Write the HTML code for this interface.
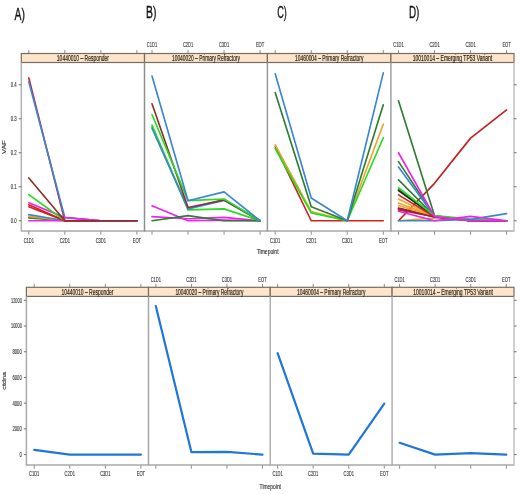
<!DOCTYPE html>
<html><head><meta charset="utf-8"><style>
html,body{margin:0;padding:0;background:#fff;width:520px;height:494px;overflow:hidden}
svg{display:block;filter:blur(0.35px)}
text{font-family:"Liberation Sans", sans-serif}
</style></head><body>
<svg width="520" height="494" viewBox="0 0 520 494" font-family='"Liberation Sans", sans-serif'>
<rect x="0" y="0" width="520" height="494" fill="#ffffff"/>
<text x="14.6" y="19.6" font-size="16.5" fill="#111" stroke="#111" stroke-width="0.35" textLength="10.4" lengthAdjust="spacingAndGlyphs">A)</text>
<text x="146.1" y="18.2" font-size="16.5" fill="#111" stroke="#111" stroke-width="0.35" textLength="10.4" lengthAdjust="spacingAndGlyphs">B)</text>
<text x="277.2" y="17.6" font-size="16.5" fill="#111" stroke="#111" stroke-width="0.35" textLength="9.6" lengthAdjust="spacingAndGlyphs">C)</text>
<text x="408.9" y="17.9" font-size="16.5" fill="#111" stroke="#111" stroke-width="0.35" textLength="10.4" lengthAdjust="spacingAndGlyphs">D)</text>
<line x1="28.8" y1="50.1" x2="28.8" y2="53.5" stroke="#707070" stroke-width="0.8"/>
<line x1="28.8" y1="230.9" x2="28.8" y2="234.7" stroke="#707070" stroke-width="0.8"/>
<text x="28.8" y="242.9" font-size="6.7" text-anchor="middle" fill="#3a3a3a" stroke="#3a3a3a" stroke-width="0.15" textLength="10.3" lengthAdjust="spacingAndGlyphs">C1D1</text>
<line x1="64.83" y1="50.1" x2="64.83" y2="53.5" stroke="#707070" stroke-width="0.8"/>
<line x1="64.83" y1="230.9" x2="64.83" y2="234.7" stroke="#707070" stroke-width="0.8"/>
<text x="64.83" y="242.9" font-size="6.7" text-anchor="middle" fill="#3a3a3a" stroke="#3a3a3a" stroke-width="0.15" textLength="10.3" lengthAdjust="spacingAndGlyphs">C2D1</text>
<line x1="100.86" y1="50.1" x2="100.86" y2="53.5" stroke="#707070" stroke-width="0.8"/>
<line x1="100.86" y1="230.9" x2="100.86" y2="234.7" stroke="#707070" stroke-width="0.8"/>
<text x="100.86" y="242.9" font-size="6.7" text-anchor="middle" fill="#3a3a3a" stroke="#3a3a3a" stroke-width="0.15" textLength="10.3" lengthAdjust="spacingAndGlyphs">C3D1</text>
<line x1="136.89" y1="50.1" x2="136.89" y2="53.5" stroke="#707070" stroke-width="0.8"/>
<line x1="136.89" y1="230.9" x2="136.89" y2="234.7" stroke="#707070" stroke-width="0.8"/>
<text x="136.89" y="242.9" font-size="6.7" text-anchor="middle" fill="#3a3a3a" stroke="#3a3a3a" stroke-width="0.15" textLength="8.4" lengthAdjust="spacingAndGlyphs">EOT</text>
<line x1="152" y1="50.1" x2="152" y2="53.5" stroke="#707070" stroke-width="0.8"/>
<line x1="152" y1="230.9" x2="152" y2="234.7" stroke="#707070" stroke-width="0.8"/>
<text x="152" y="47.3" font-size="6.7" text-anchor="middle" fill="#3a3a3a" stroke="#3a3a3a" stroke-width="0.15" textLength="10.3" lengthAdjust="spacingAndGlyphs">C1D1</text>
<line x1="188.03" y1="50.1" x2="188.03" y2="53.5" stroke="#707070" stroke-width="0.8"/>
<line x1="188.03" y1="230.9" x2="188.03" y2="234.7" stroke="#707070" stroke-width="0.8"/>
<text x="188.03" y="47.3" font-size="6.7" text-anchor="middle" fill="#3a3a3a" stroke="#3a3a3a" stroke-width="0.15" textLength="10.3" lengthAdjust="spacingAndGlyphs">C2D1</text>
<line x1="224.06" y1="50.1" x2="224.06" y2="53.5" stroke="#707070" stroke-width="0.8"/>
<line x1="224.06" y1="230.9" x2="224.06" y2="234.7" stroke="#707070" stroke-width="0.8"/>
<text x="224.06" y="47.3" font-size="6.7" text-anchor="middle" fill="#3a3a3a" stroke="#3a3a3a" stroke-width="0.15" textLength="10.3" lengthAdjust="spacingAndGlyphs">C3D1</text>
<line x1="260.09" y1="50.1" x2="260.09" y2="53.5" stroke="#707070" stroke-width="0.8"/>
<line x1="260.09" y1="230.9" x2="260.09" y2="234.7" stroke="#707070" stroke-width="0.8"/>
<text x="260.09" y="47.3" font-size="6.7" text-anchor="middle" fill="#3a3a3a" stroke="#3a3a3a" stroke-width="0.15" textLength="8.4" lengthAdjust="spacingAndGlyphs">EOT</text>
<line x1="275.2" y1="50.1" x2="275.2" y2="53.5" stroke="#707070" stroke-width="0.8"/>
<line x1="275.2" y1="230.9" x2="275.2" y2="234.7" stroke="#707070" stroke-width="0.8"/>
<text x="275.2" y="242.9" font-size="6.7" text-anchor="middle" fill="#3a3a3a" stroke="#3a3a3a" stroke-width="0.15" textLength="10.3" lengthAdjust="spacingAndGlyphs">C1D1</text>
<line x1="311.23" y1="50.1" x2="311.23" y2="53.5" stroke="#707070" stroke-width="0.8"/>
<line x1="311.23" y1="230.9" x2="311.23" y2="234.7" stroke="#707070" stroke-width="0.8"/>
<text x="311.23" y="242.9" font-size="6.7" text-anchor="middle" fill="#3a3a3a" stroke="#3a3a3a" stroke-width="0.15" textLength="10.3" lengthAdjust="spacingAndGlyphs">C2D1</text>
<line x1="347.26" y1="50.1" x2="347.26" y2="53.5" stroke="#707070" stroke-width="0.8"/>
<line x1="347.26" y1="230.9" x2="347.26" y2="234.7" stroke="#707070" stroke-width="0.8"/>
<text x="347.26" y="242.9" font-size="6.7" text-anchor="middle" fill="#3a3a3a" stroke="#3a3a3a" stroke-width="0.15" textLength="10.3" lengthAdjust="spacingAndGlyphs">C3D1</text>
<line x1="383.29" y1="50.1" x2="383.29" y2="53.5" stroke="#707070" stroke-width="0.8"/>
<line x1="383.29" y1="230.9" x2="383.29" y2="234.7" stroke="#707070" stroke-width="0.8"/>
<text x="383.29" y="242.9" font-size="6.7" text-anchor="middle" fill="#3a3a3a" stroke="#3a3a3a" stroke-width="0.15" textLength="8.4" lengthAdjust="spacingAndGlyphs">EOT</text>
<line x1="398.5" y1="50.1" x2="398.5" y2="53.5" stroke="#707070" stroke-width="0.8"/>
<line x1="398.5" y1="230.9" x2="398.5" y2="234.7" stroke="#707070" stroke-width="0.8"/>
<text x="398.5" y="47.3" font-size="6.7" text-anchor="middle" fill="#3a3a3a" stroke="#3a3a3a" stroke-width="0.15" textLength="10.3" lengthAdjust="spacingAndGlyphs">C1D1</text>
<line x1="434.53" y1="50.1" x2="434.53" y2="53.5" stroke="#707070" stroke-width="0.8"/>
<line x1="434.53" y1="230.9" x2="434.53" y2="234.7" stroke="#707070" stroke-width="0.8"/>
<text x="434.53" y="47.3" font-size="6.7" text-anchor="middle" fill="#3a3a3a" stroke="#3a3a3a" stroke-width="0.15" textLength="10.3" lengthAdjust="spacingAndGlyphs">C2D1</text>
<line x1="470.56" y1="50.1" x2="470.56" y2="53.5" stroke="#707070" stroke-width="0.8"/>
<line x1="470.56" y1="230.9" x2="470.56" y2="234.7" stroke="#707070" stroke-width="0.8"/>
<text x="470.56" y="47.3" font-size="6.7" text-anchor="middle" fill="#3a3a3a" stroke="#3a3a3a" stroke-width="0.15" textLength="10.3" lengthAdjust="spacingAndGlyphs">C3D1</text>
<line x1="506.59" y1="50.1" x2="506.59" y2="53.5" stroke="#707070" stroke-width="0.8"/>
<line x1="506.59" y1="230.9" x2="506.59" y2="234.7" stroke="#707070" stroke-width="0.8"/>
<text x="506.59" y="47.3" font-size="6.7" text-anchor="middle" fill="#3a3a3a" stroke="#3a3a3a" stroke-width="0.15" textLength="8.4" lengthAdjust="spacingAndGlyphs">EOT</text>
<rect x="21.3" y="53.5" width="123.2" height="9" fill="#fde5cb" stroke="#786c60" stroke-width="1.2"/>
<text x="82.9" y="60.85" font-size="8.9" text-anchor="middle" fill="#2a2418" stroke="#2a2418" stroke-width="0.2" textLength="52.1" lengthAdjust="spacingAndGlyphs">10440010 – Responder</text>
<rect x="144.5" y="53.5" width="122.9" height="9" fill="#fde5cb" stroke="#786c60" stroke-width="1.2"/>
<text x="205.95" y="60.85" font-size="8.9" text-anchor="middle" fill="#2a2418" stroke="#2a2418" stroke-width="0.2" textLength="68" lengthAdjust="spacingAndGlyphs">10040020 – Primary Refractory</text>
<rect x="267.4" y="53.5" width="123.5" height="9" fill="#fde5cb" stroke="#786c60" stroke-width="1.2"/>
<text x="329.15" y="60.85" font-size="8.9" text-anchor="middle" fill="#2a2418" stroke="#2a2418" stroke-width="0.2" textLength="68.4" lengthAdjust="spacingAndGlyphs">10460004 – Primary Refractory</text>
<rect x="390.9" y="53.5" width="123.1" height="9" fill="#fde5cb" stroke="#786c60" stroke-width="1.2"/>
<text x="452.45" y="60.85" font-size="8.9" text-anchor="middle" fill="#2a2418" stroke="#2a2418" stroke-width="0.2" textLength="79.6" lengthAdjust="spacingAndGlyphs">10010014 – Emerging TP53 Variant</text>
<polyline points="28.8,217.86 64.83,220.75 100.86,220.75 136.89,220.75" fill="none" stroke="#2f7d32" stroke-width="1.65" stroke-linejoin="round" stroke-linecap="round"/>
<polyline points="28.8,216.33 64.83,220.75 100.86,220.75 136.89,220.75" fill="none" stroke="#f0a428" stroke-width="1.65" stroke-linejoin="round" stroke-linecap="round"/>
<polyline points="28.8,214.63 64.83,220.75 100.86,220.75 136.89,220.75" fill="none" stroke="#3a86d6" stroke-width="1.65" stroke-linejoin="round" stroke-linecap="round"/>
<polyline points="28.8,220.75 64.83,220.75 100.86,220.75 136.89,220.75" fill="none" stroke="#ee22ee" stroke-width="1.65" stroke-linejoin="round" stroke-linecap="round"/>
<polyline points="28.8,206.81 64.83,220.75 100.86,220.75 136.89,220.75" fill="none" stroke="#d61e1e" stroke-width="1.65" stroke-linejoin="round" stroke-linecap="round"/>
<polyline points="28.8,204.77 64.83,220.75 100.86,220.75 136.89,220.75" fill="none" stroke="#d61e1e" stroke-width="1.65" stroke-linejoin="round" stroke-linecap="round"/>
<polyline points="28.8,202.73 64.83,217.45 100.86,220.75 136.89,220.75" fill="none" stroke="#ee22ee" stroke-width="1.65" stroke-linejoin="round" stroke-linecap="round"/>
<polyline points="28.8,194.57 64.83,220.75 100.86,220.75 136.89,220.75" fill="none" stroke="#22dd22" stroke-width="1.65" stroke-linejoin="round" stroke-linecap="round"/>
<polyline points="28.8,177.91 64.83,220.75 100.86,220.75 136.89,220.75" fill="none" stroke="#962c2c" stroke-width="1.65" stroke-linejoin="round" stroke-linecap="round"/>
<polyline points="28.8,77.95 64.83,220.75 100.86,220.75 136.89,220.75" fill="none" stroke="#d61e1e" stroke-width="1.65" stroke-linejoin="round" stroke-linecap="round"/>
<polyline points="28.8,81.69 64.83,217.45 100.86,220.75 136.89,220.75" fill="none" stroke="#3a86d6" stroke-width="1.65" stroke-linejoin="round" stroke-linecap="round"/>
<polyline points="64.83,217.45 100.86,220.75" fill="none" stroke="#ee22ee" stroke-width="1.65" stroke-linejoin="round" stroke-linecap="round"/>
<polyline points="64.83,220.75 100.86,220.75 136.89,220.75" fill="none" stroke="#962c2c" stroke-width="1.65" stroke-linejoin="round" stroke-linecap="round"/>
<polyline points="152,205.79 188.03,220.75 224.06,220.07 260.09,220.75" fill="none" stroke="#ee22ee" stroke-width="1.65" stroke-linejoin="round" stroke-linecap="round"/>
<polyline points="152,216.67 188.03,218.71 224.06,217.35 260.09,220.75" fill="none" stroke="#ee22ee" stroke-width="1.65" stroke-linejoin="round" stroke-linecap="round"/>
<polyline points="152,220.75 188.03,215.65 224.06,220.75 260.09,220.75" fill="none" stroke="#2f7d32" stroke-width="1.65" stroke-linejoin="round" stroke-linecap="round"/>
<polyline points="152,125.04 188.03,209.87 224.06,208.85 260.09,220.75" fill="none" stroke="#22dd22" stroke-width="1.65" stroke-linejoin="round" stroke-linecap="round"/>
<polyline points="152,126.91 188.03,208.51 224.06,199.67 260.09,220.75" fill="none" stroke="#22dd22" stroke-width="1.65" stroke-linejoin="round" stroke-linecap="round"/>
<polyline points="152,128.27 188.03,208.85 224.06,200.35 260.09,220.75" fill="none" stroke="#3a86d6" stroke-width="1.65" stroke-linejoin="round" stroke-linecap="round"/>
<polyline points="152,103.79 188.03,207.49 224.06,200.01 260.09,220.75" fill="none" stroke="#962c2c" stroke-width="1.65" stroke-linejoin="round" stroke-linecap="round"/>
<polyline points="152,114.5 188.03,200.69 224.06,198.99 260.09,220.75" fill="none" stroke="#22dd22" stroke-width="1.65" stroke-linejoin="round" stroke-linecap="round"/>
<polyline points="152,76.05 188.03,200.69 224.06,191.85 260.09,220.75" fill="none" stroke="#3a86d6" stroke-width="1.65" stroke-linejoin="round" stroke-linecap="round"/>
<polyline points="275.2,146.46 311.23,220.75 347.26,220.75 383.29,220.75" fill="none" stroke="#d61e1e" stroke-width="1.65" stroke-linejoin="round" stroke-linecap="round"/>
<polyline points="275.2,144.93 311.23,211.57 347.26,220.75 383.29,124.19" fill="none" stroke="#f0a428" stroke-width="1.65" stroke-linejoin="round" stroke-linecap="round"/>
<polyline points="275.2,148.5 311.23,212.93 347.26,220.75 383.29,137.79" fill="none" stroke="#22dd22" stroke-width="1.65" stroke-linejoin="round" stroke-linecap="round"/>
<polyline points="275.2,92.57 311.23,206.81 347.26,220.75 383.29,104.81" fill="none" stroke="#2f7d32" stroke-width="1.65" stroke-linejoin="round" stroke-linecap="round"/>
<polyline points="275.2,73.67 311.23,197.97 347.26,220.75 383.29,72.85" fill="none" stroke="#3a86d6" stroke-width="1.65" stroke-linejoin="round" stroke-linecap="round"/>
<polyline points="398.5,220.75 434.53,183.35 470.56,138.13 506.59,109.91" fill="none" stroke="#c41e1e" stroke-width="1.65" stroke-linejoin="round" stroke-linecap="round"/>
<polyline points="398.5,220.75 434.53,218.03 470.56,219.73 506.59,220.75" fill="none" stroke="#f0a428" stroke-width="1.65" stroke-linejoin="round" stroke-linecap="round"/>
<polyline points="398.5,100.73 434.53,215.65 470.56,220.75 506.59,220.75" fill="none" stroke="#2f7d32" stroke-width="1.65" stroke-linejoin="round" stroke-linecap="round"/>
<polyline points="398.5,161.59 434.53,215.99 470.56,220.75 506.59,220.75" fill="none" stroke="#2f7d32" stroke-width="1.65" stroke-linejoin="round" stroke-linecap="round"/>
<polyline points="398.5,179.95 434.53,215.99 470.56,220.75 506.59,220.75" fill="none" stroke="#2f7d32" stroke-width="1.65" stroke-linejoin="round" stroke-linecap="round"/>
<polyline points="398.5,189.47 434.53,215.99 470.56,220.75 506.59,220.75" fill="none" stroke="#2f7d32" stroke-width="1.65" stroke-linejoin="round" stroke-linecap="round"/>
<polyline points="398.5,190.66 434.53,216.33 470.56,220.75 506.59,220.75" fill="none" stroke="#222222" stroke-width="1.65" stroke-linejoin="round" stroke-linecap="round"/>
<polyline points="398.5,208.17 434.53,216.67 470.56,220.75 506.59,220.75" fill="none" stroke="#962c2c" stroke-width="1.65" stroke-linejoin="round" stroke-linecap="round"/>
<polyline points="398.5,209.87 434.53,216.67 470.56,220.75 506.59,220.75" fill="none" stroke="#d61e1e" stroke-width="1.65" stroke-linejoin="round" stroke-linecap="round"/>
<polyline points="398.5,205.45 434.53,216.67 470.56,220.75 506.59,220.75" fill="none" stroke="#f0a428" stroke-width="1.65" stroke-linejoin="round" stroke-linecap="round"/>
<polyline points="398.5,203.07 434.53,216.67 470.56,220.75 506.59,220.75" fill="none" stroke="#f0a428" stroke-width="1.65" stroke-linejoin="round" stroke-linecap="round"/>
<polyline points="398.5,198.99 434.53,216.67 470.56,220.75 506.59,220.75" fill="none" stroke="#f0a428" stroke-width="1.65" stroke-linejoin="round" stroke-linecap="round"/>
<polyline points="398.5,194.91 434.53,216.67 470.56,220.75 506.59,220.75" fill="none" stroke="#d61e1e" stroke-width="1.65" stroke-linejoin="round" stroke-linecap="round"/>
<polyline points="398.5,167.03 434.53,216.33 470.56,220.75 506.59,220.75" fill="none" stroke="#3a86d6" stroke-width="1.65" stroke-linejoin="round" stroke-linecap="round"/>
<polyline points="398.5,208.51 434.53,217.01 470.56,220.75 506.59,220.75" fill="none" stroke="#8b2252" stroke-width="1.65" stroke-linejoin="round" stroke-linecap="round"/>
<polyline points="398.5,187.77 434.53,215.65 470.56,219.05 506.59,220.75" fill="none" stroke="#22dd22" stroke-width="1.65" stroke-linejoin="round" stroke-linecap="round"/>
<polyline points="398.5,220.75 434.53,220.75 470.56,219.39 506.59,213.61" fill="none" stroke="#3a86d6" stroke-width="1.65" stroke-linejoin="round" stroke-linecap="round"/>
<polyline points="398.5,211.23 434.53,220.75 470.56,216.33 506.59,220.75" fill="none" stroke="#ee22ee" stroke-width="1.65" stroke-linejoin="round" stroke-linecap="round"/>
<polyline points="398.5,152.75 434.53,216.67 470.56,220.75 506.59,220.75" fill="none" stroke="#ee22ee" stroke-width="1.65" stroke-linejoin="round" stroke-linecap="round"/>
<line x1="21.3" y1="230.9" x2="514" y2="230.9" stroke="#a9a9a9" stroke-width="1.5"/>
<line x1="21.3" y1="62.5" x2="21.3" y2="231.65" stroke="#b2b2b2" stroke-width="1.5"/>
<line x1="144.5" y1="62.5" x2="144.5" y2="231.65" stroke="#8e8e8e" stroke-width="1.5"/>
<line x1="267.4" y1="62.5" x2="267.4" y2="231.65" stroke="#999999" stroke-width="1.5"/>
<line x1="390.9" y1="62.5" x2="390.9" y2="231.65" stroke="#a0a0a0" stroke-width="1.5"/>
<line x1="514" y1="62.5" x2="514" y2="231.65" stroke="#c2c2c2" stroke-width="1.5"/>
<line x1="18.7" y1="220.75" x2="21.3" y2="220.75" stroke="#707070" stroke-width="1"/>
<line x1="514" y1="220.75" x2="516.6" y2="220.75" stroke="#707070" stroke-width="1"/>
<text x="16.7" y="223.15" font-size="6.7" text-anchor="end" fill="#3a3a3a" stroke="#3a3a3a" stroke-width="0.15" textLength="5.9" lengthAdjust="spacingAndGlyphs">0.0</text>
<line x1="18.7" y1="186.75" x2="21.3" y2="186.75" stroke="#707070" stroke-width="1"/>
<line x1="514" y1="186.75" x2="516.6" y2="186.75" stroke="#707070" stroke-width="1"/>
<text x="16.7" y="189.15" font-size="6.7" text-anchor="end" fill="#3a3a3a" stroke="#3a3a3a" stroke-width="0.15" textLength="5.9" lengthAdjust="spacingAndGlyphs">0.1</text>
<line x1="18.7" y1="152.75" x2="21.3" y2="152.75" stroke="#707070" stroke-width="1"/>
<line x1="514" y1="152.75" x2="516.6" y2="152.75" stroke="#707070" stroke-width="1"/>
<text x="16.7" y="155.15" font-size="6.7" text-anchor="end" fill="#3a3a3a" stroke="#3a3a3a" stroke-width="0.15" textLength="5.9" lengthAdjust="spacingAndGlyphs">0.2</text>
<line x1="18.7" y1="118.75" x2="21.3" y2="118.75" stroke="#707070" stroke-width="1"/>
<line x1="514" y1="118.75" x2="516.6" y2="118.75" stroke="#707070" stroke-width="1"/>
<text x="16.7" y="121.15" font-size="6.7" text-anchor="end" fill="#3a3a3a" stroke="#3a3a3a" stroke-width="0.15" textLength="5.9" lengthAdjust="spacingAndGlyphs">0.3</text>
<line x1="18.7" y1="84.75" x2="21.3" y2="84.75" stroke="#707070" stroke-width="1"/>
<line x1="514" y1="84.75" x2="516.6" y2="84.75" stroke="#707070" stroke-width="1"/>
<text x="16.7" y="87.15" font-size="6.7" text-anchor="end" fill="#3a3a3a" stroke="#3a3a3a" stroke-width="0.15" textLength="5.9" lengthAdjust="spacingAndGlyphs">0.4</text>
<line x1="34.2" y1="283.9" x2="34.2" y2="287.3" stroke="#707070" stroke-width="0.8"/>
<line x1="34.2" y1="464.9" x2="34.2" y2="468.7" stroke="#707070" stroke-width="0.8"/>
<text x="34.2" y="476.2" font-size="6.7" text-anchor="middle" fill="#3a3a3a" stroke="#3a3a3a" stroke-width="0.15" textLength="10.3" lengthAdjust="spacingAndGlyphs">C1D1</text>
<line x1="69.77" y1="283.9" x2="69.77" y2="287.3" stroke="#707070" stroke-width="0.8"/>
<line x1="69.77" y1="464.9" x2="69.77" y2="468.7" stroke="#707070" stroke-width="0.8"/>
<text x="69.77" y="476.2" font-size="6.7" text-anchor="middle" fill="#3a3a3a" stroke="#3a3a3a" stroke-width="0.15" textLength="10.3" lengthAdjust="spacingAndGlyphs">C2D1</text>
<line x1="105.34" y1="283.9" x2="105.34" y2="287.3" stroke="#707070" stroke-width="0.8"/>
<line x1="105.34" y1="464.9" x2="105.34" y2="468.7" stroke="#707070" stroke-width="0.8"/>
<text x="105.34" y="476.2" font-size="6.7" text-anchor="middle" fill="#3a3a3a" stroke="#3a3a3a" stroke-width="0.15" textLength="10.3" lengthAdjust="spacingAndGlyphs">C3D1</text>
<line x1="140.91" y1="283.9" x2="140.91" y2="287.3" stroke="#707070" stroke-width="0.8"/>
<line x1="140.91" y1="464.9" x2="140.91" y2="468.7" stroke="#707070" stroke-width="0.8"/>
<text x="140.91" y="476.2" font-size="6.7" text-anchor="middle" fill="#3a3a3a" stroke="#3a3a3a" stroke-width="0.15" textLength="8.4" lengthAdjust="spacingAndGlyphs">EOT</text>
<line x1="155.8" y1="283.9" x2="155.8" y2="287.3" stroke="#707070" stroke-width="0.8"/>
<line x1="155.8" y1="464.9" x2="155.8" y2="468.7" stroke="#707070" stroke-width="0.8"/>
<text x="155.8" y="281.5" font-size="6.7" text-anchor="middle" fill="#3a3a3a" stroke="#3a3a3a" stroke-width="0.15" textLength="10.3" lengthAdjust="spacingAndGlyphs">C1D1</text>
<line x1="191.37" y1="283.9" x2="191.37" y2="287.3" stroke="#707070" stroke-width="0.8"/>
<line x1="191.37" y1="464.9" x2="191.37" y2="468.7" stroke="#707070" stroke-width="0.8"/>
<text x="191.37" y="281.5" font-size="6.7" text-anchor="middle" fill="#3a3a3a" stroke="#3a3a3a" stroke-width="0.15" textLength="10.3" lengthAdjust="spacingAndGlyphs">C2D1</text>
<line x1="226.94" y1="283.9" x2="226.94" y2="287.3" stroke="#707070" stroke-width="0.8"/>
<line x1="226.94" y1="464.9" x2="226.94" y2="468.7" stroke="#707070" stroke-width="0.8"/>
<text x="226.94" y="281.5" font-size="6.7" text-anchor="middle" fill="#3a3a3a" stroke="#3a3a3a" stroke-width="0.15" textLength="10.3" lengthAdjust="spacingAndGlyphs">C3D1</text>
<line x1="262.51" y1="283.9" x2="262.51" y2="287.3" stroke="#707070" stroke-width="0.8"/>
<line x1="262.51" y1="464.9" x2="262.51" y2="468.7" stroke="#707070" stroke-width="0.8"/>
<text x="262.51" y="281.5" font-size="6.7" text-anchor="middle" fill="#3a3a3a" stroke="#3a3a3a" stroke-width="0.15" textLength="8.4" lengthAdjust="spacingAndGlyphs">EOT</text>
<line x1="277.6" y1="283.9" x2="277.6" y2="287.3" stroke="#707070" stroke-width="0.8"/>
<line x1="277.6" y1="464.9" x2="277.6" y2="468.7" stroke="#707070" stroke-width="0.8"/>
<text x="277.6" y="476.2" font-size="6.7" text-anchor="middle" fill="#3a3a3a" stroke="#3a3a3a" stroke-width="0.15" textLength="10.3" lengthAdjust="spacingAndGlyphs">C1D1</text>
<line x1="313.17" y1="283.9" x2="313.17" y2="287.3" stroke="#707070" stroke-width="0.8"/>
<line x1="313.17" y1="464.9" x2="313.17" y2="468.7" stroke="#707070" stroke-width="0.8"/>
<text x="313.17" y="476.2" font-size="6.7" text-anchor="middle" fill="#3a3a3a" stroke="#3a3a3a" stroke-width="0.15" textLength="10.3" lengthAdjust="spacingAndGlyphs">C2D1</text>
<line x1="348.74" y1="283.9" x2="348.74" y2="287.3" stroke="#707070" stroke-width="0.8"/>
<line x1="348.74" y1="464.9" x2="348.74" y2="468.7" stroke="#707070" stroke-width="0.8"/>
<text x="348.74" y="476.2" font-size="6.7" text-anchor="middle" fill="#3a3a3a" stroke="#3a3a3a" stroke-width="0.15" textLength="10.3" lengthAdjust="spacingAndGlyphs">C3D1</text>
<line x1="384.31" y1="283.9" x2="384.31" y2="287.3" stroke="#707070" stroke-width="0.8"/>
<line x1="384.31" y1="464.9" x2="384.31" y2="468.7" stroke="#707070" stroke-width="0.8"/>
<text x="384.31" y="476.2" font-size="6.7" text-anchor="middle" fill="#3a3a3a" stroke="#3a3a3a" stroke-width="0.15" textLength="8.4" lengthAdjust="spacingAndGlyphs">EOT</text>
<line x1="399.6" y1="283.9" x2="399.6" y2="287.3" stroke="#707070" stroke-width="0.8"/>
<line x1="399.6" y1="464.9" x2="399.6" y2="468.7" stroke="#707070" stroke-width="0.8"/>
<text x="399.6" y="281.5" font-size="6.7" text-anchor="middle" fill="#3a3a3a" stroke="#3a3a3a" stroke-width="0.15" textLength="10.3" lengthAdjust="spacingAndGlyphs">C1D1</text>
<line x1="435.17" y1="283.9" x2="435.17" y2="287.3" stroke="#707070" stroke-width="0.8"/>
<line x1="435.17" y1="464.9" x2="435.17" y2="468.7" stroke="#707070" stroke-width="0.8"/>
<text x="435.17" y="281.5" font-size="6.7" text-anchor="middle" fill="#3a3a3a" stroke="#3a3a3a" stroke-width="0.15" textLength="10.3" lengthAdjust="spacingAndGlyphs">C2D1</text>
<line x1="470.74" y1="283.9" x2="470.74" y2="287.3" stroke="#707070" stroke-width="0.8"/>
<line x1="470.74" y1="464.9" x2="470.74" y2="468.7" stroke="#707070" stroke-width="0.8"/>
<text x="470.74" y="281.5" font-size="6.7" text-anchor="middle" fill="#3a3a3a" stroke="#3a3a3a" stroke-width="0.15" textLength="10.3" lengthAdjust="spacingAndGlyphs">C3D1</text>
<line x1="506.31" y1="283.9" x2="506.31" y2="287.3" stroke="#707070" stroke-width="0.8"/>
<line x1="506.31" y1="464.9" x2="506.31" y2="468.7" stroke="#707070" stroke-width="0.8"/>
<text x="506.31" y="281.5" font-size="6.7" text-anchor="middle" fill="#3a3a3a" stroke="#3a3a3a" stroke-width="0.15" textLength="8.4" lengthAdjust="spacingAndGlyphs">EOT</text>
<rect x="26.4" y="287.3" width="122.1" height="9.1" fill="#fde5cb" stroke="#786c60" stroke-width="1.2"/>
<text x="87.45" y="294.75" font-size="8.9" text-anchor="middle" fill="#2a2418" stroke="#2a2418" stroke-width="0.2" textLength="52.1" lengthAdjust="spacingAndGlyphs">10440010 – Responder</text>
<rect x="148.5" y="287.3" width="121.75" height="9.1" fill="#fde5cb" stroke="#786c60" stroke-width="1.2"/>
<text x="209.38" y="294.75" font-size="8.9" text-anchor="middle" fill="#2a2418" stroke="#2a2418" stroke-width="0.2" textLength="68" lengthAdjust="spacingAndGlyphs">10040020 – Primary Refractory</text>
<rect x="270.25" y="287.3" width="121.85" height="9.1" fill="#fde5cb" stroke="#786c60" stroke-width="1.2"/>
<text x="331.18" y="294.75" font-size="8.9" text-anchor="middle" fill="#2a2418" stroke="#2a2418" stroke-width="0.2" textLength="68.4" lengthAdjust="spacingAndGlyphs">10460004 – Primary Refractory</text>
<rect x="392.1" y="287.3" width="121.9" height="9.1" fill="#fde5cb" stroke="#786c60" stroke-width="1.2"/>
<text x="453.05" y="294.75" font-size="8.9" text-anchor="middle" fill="#2a2418" stroke="#2a2418" stroke-width="0.2" textLength="79.6" lengthAdjust="spacingAndGlyphs">10010014 – Emerging TP53 Variant</text>
<polyline points="34.2,449.89 69.77,454.6 105.34,454.6 140.91,454.6" fill="none" stroke="#1e76dc" stroke-width="2.2" stroke-linejoin="round" stroke-linecap="round"/>
<polyline points="155.8,306.1 191.37,452.03 226.94,451.8 262.51,454.6" fill="none" stroke="#1e76dc" stroke-width="2.2" stroke-linejoin="round" stroke-linecap="round"/>
<polyline points="277.6,353.2 313.17,453.7 348.74,454.6 384.31,403.68" fill="none" stroke="#1e76dc" stroke-width="2.2" stroke-linejoin="round" stroke-linecap="round"/>
<polyline points="399.6,442.8 435.17,454.6 470.74,453.19 506.31,454.6" fill="none" stroke="#1e76dc" stroke-width="2.2" stroke-linejoin="round" stroke-linecap="round"/>
<line x1="26.4" y1="464.9" x2="514" y2="464.9" stroke="#a9a9a9" stroke-width="1.5"/>
<line x1="26.4" y1="296.4" x2="26.4" y2="465.65" stroke="#aaaaaa" stroke-width="1.5"/>
<line x1="148.5" y1="296.4" x2="148.5" y2="465.65" stroke="#a4a4a4" stroke-width="1.5"/>
<line x1="270.25" y1="296.4" x2="270.25" y2="465.65" stroke="#b0b0b0" stroke-width="1.5"/>
<line x1="392.1" y1="296.4" x2="392.1" y2="465.65" stroke="#b0b0b0" stroke-width="1.5"/>
<line x1="514" y1="296.4" x2="514" y2="465.65" stroke="#c2c2c2" stroke-width="1.5"/>
<line x1="23.8" y1="454.6" x2="26.4" y2="454.6" stroke="#707070" stroke-width="1"/>
<line x1="514" y1="454.6" x2="516.6" y2="454.6" stroke="#707070" stroke-width="1"/>
<text x="21.8" y="457" font-size="6.7" text-anchor="end" fill="#3a3a3a" stroke="#3a3a3a" stroke-width="0.15" textLength="2.4" lengthAdjust="spacingAndGlyphs">0</text>
<line x1="23.8" y1="428.88" x2="26.4" y2="428.88" stroke="#707070" stroke-width="1"/>
<line x1="514" y1="428.88" x2="516.6" y2="428.88" stroke="#707070" stroke-width="1"/>
<text x="21.8" y="431.28" font-size="6.7" text-anchor="end" fill="#3a3a3a" stroke="#3a3a3a" stroke-width="0.15" textLength="9.4" lengthAdjust="spacingAndGlyphs">2000</text>
<line x1="23.8" y1="403.17" x2="26.4" y2="403.17" stroke="#707070" stroke-width="1"/>
<line x1="514" y1="403.17" x2="516.6" y2="403.17" stroke="#707070" stroke-width="1"/>
<text x="21.8" y="405.57" font-size="6.7" text-anchor="end" fill="#3a3a3a" stroke="#3a3a3a" stroke-width="0.15" textLength="9.4" lengthAdjust="spacingAndGlyphs">4000</text>
<line x1="23.8" y1="377.45" x2="26.4" y2="377.45" stroke="#707070" stroke-width="1"/>
<line x1="514" y1="377.45" x2="516.6" y2="377.45" stroke="#707070" stroke-width="1"/>
<text x="21.8" y="379.85" font-size="6.7" text-anchor="end" fill="#3a3a3a" stroke="#3a3a3a" stroke-width="0.15" textLength="9.4" lengthAdjust="spacingAndGlyphs">6000</text>
<line x1="23.8" y1="351.74" x2="26.4" y2="351.74" stroke="#707070" stroke-width="1"/>
<line x1="514" y1="351.74" x2="516.6" y2="351.74" stroke="#707070" stroke-width="1"/>
<text x="21.8" y="354.14" font-size="6.7" text-anchor="end" fill="#3a3a3a" stroke="#3a3a3a" stroke-width="0.15" textLength="9.4" lengthAdjust="spacingAndGlyphs">8000</text>
<line x1="23.8" y1="326.02" x2="26.4" y2="326.02" stroke="#707070" stroke-width="1"/>
<line x1="514" y1="326.02" x2="516.6" y2="326.02" stroke="#707070" stroke-width="1"/>
<text x="21.8" y="328.42" font-size="6.7" text-anchor="end" fill="#3a3a3a" stroke="#3a3a3a" stroke-width="0.15" textLength="10.7" lengthAdjust="spacingAndGlyphs">10000</text>
<line x1="23.8" y1="300.3" x2="26.4" y2="300.3" stroke="#707070" stroke-width="1"/>
<line x1="514" y1="300.3" x2="516.6" y2="300.3" stroke="#707070" stroke-width="1"/>
<text x="21.8" y="302.7" font-size="6.7" text-anchor="end" fill="#3a3a3a" stroke="#3a3a3a" stroke-width="0.15" textLength="10.7" lengthAdjust="spacingAndGlyphs">12000</text>
<text x="6.2" y="147.1" font-size="6.2" text-anchor="middle" fill="#333" stroke="#333" stroke-width="0.15" textLength="13.8" lengthAdjust="spacingAndGlyphs" transform="rotate(-90 6.2 147.1)">VAF</text>
<text x="6" y="380.8" font-size="6" text-anchor="middle" fill="#333" stroke="#333" stroke-width="0.15" textLength="18" lengthAdjust="spacingAndGlyphs" transform="rotate(-90 6 380.8)">ctdna</text>
<text x="267.6" y="253.6" font-size="6.7" text-anchor="middle" fill="#333" stroke="#333" stroke-width="0.15" textLength="21.9" lengthAdjust="spacingAndGlyphs">Timepoint</text>
<text x="270.3" y="488.5" font-size="6.7" text-anchor="middle" fill="#333" stroke="#333" stroke-width="0.15" textLength="21.4" lengthAdjust="spacingAndGlyphs">Timepoint</text>
</svg>
</body></html>
